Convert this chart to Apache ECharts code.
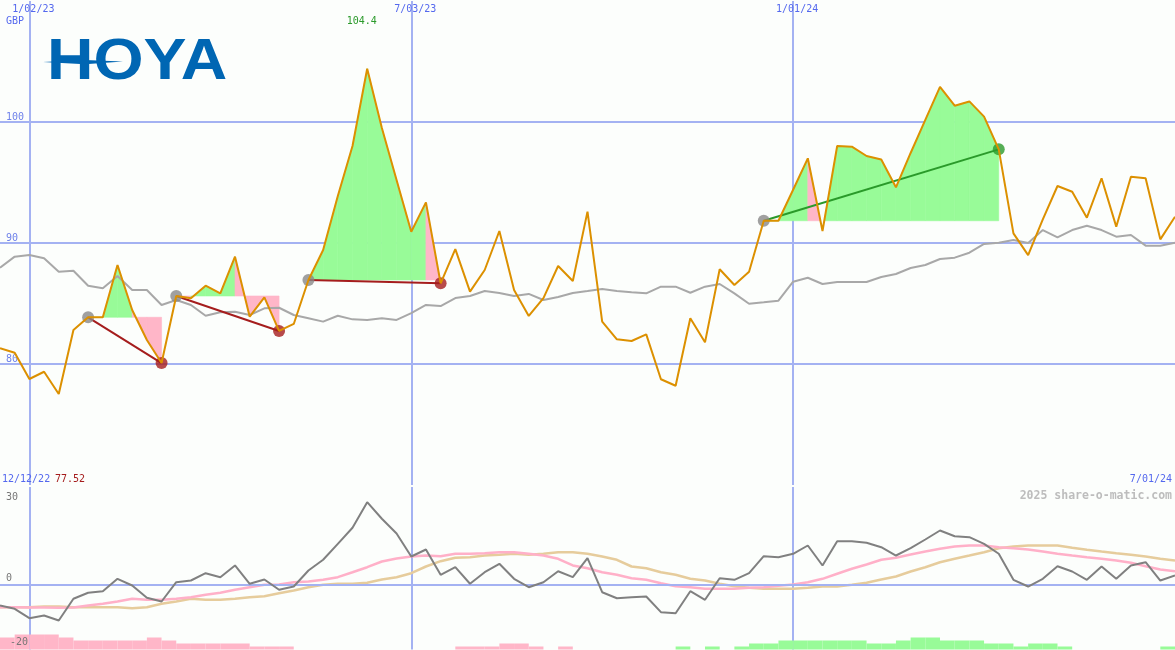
<!DOCTYPE html>
<html><head><meta charset="utf-8">
<script src="https://cdn.jsdelivr.net/npm/echarts@6/dist/echarts.min.js"></script>
<style>html,body{margin:0;padding:0;background:#fcfefc;}#c{width:1175px;height:650px;}</style>
</head><body><div id="c"></div>
<script>
// ---------- DATA ----------
const dates = ['12/12/22','12/19/22','1/02/23','1/09/23','1/16/23','1/23/23','1/30/23','2/06/23','2/13/23','2/20/23',
'2/27/23','3/06/23','3/13/23','3/20/23','3/27/23','4/03/23','4/10/23','4/17/23','4/24/23','5/01/23',
'5/08/23','5/15/23','5/22/23','5/29/23','6/05/23','6/12/23','6/19/23','6/26/23','7/03/23','7/10/23',
'7/17/23','7/24/23','7/31/23','8/07/23','8/14/23','8/21/23','8/28/23','9/04/23','9/11/23','9/18/23',
'9/25/23','10/02/23','10/09/23','10/16/23','10/23/23','10/30/23','11/06/23','11/13/23','11/20/23','11/27/23',
'12/04/23','12/11/23','12/18/23','12/25/23','1/01/24','1/08/24','1/15/24','1/22/24','1/29/24','2/05/24',
'2/12/24','2/19/24','2/26/24','3/04/24','3/11/24','3/18/24','3/25/24','4/01/24','4/08/24','4/15/24',
'4/22/24','4/29/24','5/06/24','5/13/24','5/20/24','5/27/24','6/03/24','6/10/24','6/17/24','6/24/24','7/01/24'];

const price = [81.30,80.93,78.76,79.36,77.52,82.81,83.86,83.86,88.18,84.46,
81.98,80.08,85.62,85.43,86.47,85.84,88.87,83.91,85.51,82.73,
83.31,86.94,89.42,93.88,98.02,104.4,99.50,95.21,90.93,93.36,
86.67,89.50,85.98,87.77,90.99,86.12,83.97,85.45,88.10,86.86,
92.59,83.50,82.04,81.90,82.45,78.74,78.20,83.78,81.79,87.83,
86.53,87.63,91.84,91.84,94.40,97.00,90.99,98.02,97.96,97.19,
96.90,94.60,97.44,100.17,102.90,101.35,101.70,100.44,97.74,90.80,
89.00,91.96,94.71,94.24,92.09,95.35,91.35,95.48,95.35,90.30,92.17];

const priceAvg = [87.96,88.87,89.01,88.74,87.63,87.71,86.47,86.26,87.27,86.12,
86.12,84.88,85.29,84.88,83.99,84.27,84.32,84.05,84.60,84.65,
84.05,83.78,83.50,83.99,83.69,83.64,83.78,83.64,84.21,84.88,
84.79,85.45,85.62,86.03,85.87,85.62,85.79,85.29,85.54,85.87,
86.03,86.20,86.03,85.93,85.84,86.39,86.39,85.89,86.39,86.61,
85.84,84.98,85.10,85.23,86.80,87.13,86.61,86.78,86.78,86.78,
87.19,87.44,87.93,88.18,88.68,88.79,89.20,89.92,90.02,90.25,
90.00,91.07,90.47,91.07,91.43,91.07,90.52,90.66,89.78,89.78,90.02];

const momentum = [-6.46,-7.48,-10.37,-9.54,-11.08,-4.40,-2.55,-2.06,1.75,-0.31,
-4.09,-5.23,0.71,1.23,3.48,2.25,5.85,0.22,1.54,-1.63,
-0.62,4.31,7.60,12.52,17.45,25.32,20.22,15.69,8.62,10.77,
2.98,5.32,0.22,3.78,6.37,1.75,-0.83,0.71,4.09,2.25,
8.09,-2.37,-4.22,-3.91,-3.69,-8.52,-8.83,-2.06,-4.71,1.94,
1.45,3.48,8.71,8.40,9.45,12.00,5.85,13.32,13.32,12.83,
11.48,8.92,11.17,13.85,16.62,14.86,14.55,12.52,9.45,1.45,
-0.62,1.75,5.63,4.00,1.45,5.54,1.75,5.85,6.86,1.23,2.77];

const momFast = [-6.98,-6.98,-7.08,-7.08,-7.17,-7.08,-6.46,-5.94,-5.23,-4.40,
-4.71,-4.71,-4.40,-3.91,-3.17,-2.55,-1.63,-0.83,-0.09,0.00,
0.71,0.92,1.45,2.25,3.78,5.32,7.08,8.00,8.62,8.92,
8.71,9.45,9.45,9.63,9.94,9.94,9.45,8.92,7.91,5.85,
5.02,3.78,2.98,1.94,1.45,0.40,-0.52,-0.83,-1.32,-1.32,
-1.32,-1.02,-0.83,-0.40,0.00,0.71,1.75,3.29,4.83,6.15,
7.60,8.22,9.23,10.15,10.98,11.69,12.00,12.00,11.48,11.17,
10.77,10.15,9.45,8.92,8.40,7.91,7.38,6.68,5.63,4.62,4.09];

const momSlow = [-6.98,-6.98,-6.98,-6.77,-6.77,-6.98,-6.98,-6.98,-6.98,-7.29,
-6.98,-5.94,-5.23,-4.40,-4.71,-4.71,-4.40,-3.91,-3.60,-2.68,
-1.85,-0.83,-0.09,0.22,0.22,0.52,1.54,2.25,3.48,5.54,
7.17,8.22,8.40,8.92,9.14,9.45,9.14,9.45,9.94,9.94,
9.45,8.62,7.60,5.54,5.02,3.78,2.98,1.75,1.23,0.22,
-0.52,-1.02,-1.32,-1.32,-1.32,-1.02,-0.62,-0.62,-0.09,0.52,
1.54,2.46,4.00,5.32,6.86,7.91,8.92,9.94,11.17,11.69,
12.00,12.00,12.00,11.29,10.68,10.15,9.63,9.14,8.62,7.91,7.38];

// weekly strength histogram (one block per week interval, sign = direction)
const histogram = [-4,-5,-5,-5,-4,-3,-3,-3,-3,-3,
-4,-3,-2,-2,-2,-2,-2,-1,-1,-1,
0,0,0,0,0,0,0,0,0,0,
0,-1,-1,-1,-2,-2,-1,0,-1,0,
0,0,0,0,0,0,1,0,1,0,
1,2,2,3,3,3,3,3,3,2,
2,3,4,4,3,3,3,2,2,1,
2,2,1,0,0,0,0,0,0,1];

// trades: entry/exit week index; segment state per week: G gain, L loss, g gain (above entry only), l loss (above entry only)
const trades = [
  {entry: 6,  exit: 11, segments: 'GGGLL'},
  {entry: 12, exit: 19, segments: 'LGGGLLL'},
  {entry: 21, exit: 30, segments: 'GGGGGGGGL'},
  {entry: 52, exit: 68, segments: 'GGGlgGGGGGGGGGGG'}
];

const markedDates = ['1/02/23', '7/03/23', '1/01/24'];
const priceTicks = [80, 90, 100];
const momTicks = ['30', '0', '-20'];
const currency = 'GBP';
const company = 'HOYA';
const credit = '2025 share-o-matic.com';

// ---------- STYLE ----------
const GREEN = '#98fb98', PINK = '#ffb6c8';
const GRID_BLUE = '#a4b2f2';
const MONO = '"DejaVu Sans Mono", monospace';

const chart = echarts.init(document.getElementById('c'), null, {renderer: 'canvas'});
const markIdx = markedDates.map(d => dates.indexOf(d));

const fillData = [];
trades.forEach(t => {
  const base = price[t.entry];
  for (let k = 0; k < t.segments.length; k++) fillData.push([t.entry + k, base, 'GLgl'.indexOf(t.segments[k])]);
});

function clipAbove(p0, p1, yb) {
  const a0 = p0[1] <= yb, a1 = p1[1] <= yb;
  if (a0 && a1) return [[p0[0], yb], p0, p1, [p1[0], yb]];
  if (!a0 && !a1) return null;
  const t = (yb - p0[1]) / (p1[1] - p0[1]);
  const xc = p0[0] + t * (p1[0] - p0[0]);
  if (a0) return [[p0[0], yb], p0, [xc, yb]];
  return [[xc, yb], p1, [p1[0], yb]];
}

function renderFill(params, api) {
  const k = api.value(0), base = api.value(1), type = api.value(2);
  const p0 = api.coord([k, price[k]]), p1 = api.coord([k + 1, price[k + 1]]);
  const yb = api.coord([k, base])[1];
  const pts = type < 2 ? [[p0[0], yb], p0, p1, [p1[0], yb]] : clipAbove(p0, p1, yb);
  if (!pts) return null;
  const color = (type % 2 === 0) ? GREEN : PINK;
  return {type: 'polygon', shape: {points: pts}, style: {fill: color, stroke: color, lineWidth: 0.6}};
}

const series = [];
series.push({type: 'custom', xAxisIndex: 0, yAxisIndex: 0, z: 1, data: fillData, renderItem: renderFill, silent: true});
series.push({type: 'line', xAxisIndex: 0, yAxisIndex: 0, z: 2, data: priceAvg, symbol: 'none',
  lineStyle: {color: '#a8a8a8', width: 2}, silent: true});
const dots = [];
trades.forEach(t => {
  const win = price[t.exit] > price[t.entry];
  const c = win ? '#2a9a2a' : '#a51d1d';
  series.push({type: 'line', xAxisIndex: 0, yAxisIndex: 0, z: 3, symbol: 'none', silent: true,
    data: [[t.entry, price[t.entry]], [t.exit, price[t.exit]]], lineStyle: {color: c, width: 2}});
  dots.push({value: [t.entry, price[t.entry]], itemStyle: {color: '#888888'}});
  dots.push({value: [t.exit, price[t.exit]], itemStyle: {color: c}});
});
series.push({type: 'scatter', xAxisIndex: 0, yAxisIndex: 0, z: 4, symbolSize: 12, data: dots, silent: true});
series.push({type: 'line', xAxisIndex: 0, yAxisIndex: 0, z: 5, data: price, symbol: 'none',
  lineStyle: {color: '#dc9000', width: 2}, silent: true});

// bottom panel
series.push({type: 'bar', xAxisIndex: 2, yAxisIndex: 2, z: 1, silent: true, barCategoryGap: '0%', barWidth: '100%',
  data: histogram.map(v => ({value: Math.abs(v), itemStyle: {color: v < 0 ? PINK : GREEN}}))});
series.push({type: 'line', xAxisIndex: 1, yAxisIndex: 1, z: 1, data: momentum, symbol: 'none', silent: true,
  lineStyle: {opacity: 0},
  markLine: {symbol: 'none', silent: true, label: {show: false}, data: [{yAxis: 0}],
    lineStyle: {color: GRID_BLUE, width: 2, type: 'solid'}}});
series.push({type: 'line', xAxisIndex: 1, yAxisIndex: 1, z: 3, data: momSlow, symbol: 'none', silent: true,
  lineStyle: {color: '#e6cc9c', width: 2.5}});
series.push({type: 'line', xAxisIndex: 1, yAxisIndex: 1, z: 4, data: momFast, symbol: 'none', silent: true,
  lineStyle: {color: '#ffb0c8', width: 2.5}});
series.push({type: 'line', xAxisIndex: 1, yAxisIndex: 1, z: 5, data: momentum, symbol: 'none', silent: true,
  lineStyle: {color: '#808080', width: 2}});

const vSplit = {show: true, interval: i => markIdx.includes(i), lineStyle: {color: GRID_BLUE, width: 2}};

chart.setOption({
  animation: false,
  backgroundColor: '#fcfefc',
  grid: [
    {left: 0, right: 0, top: 1, height: 484, outerBoundsMode: 'none'},
    {left: 0, right: 0, top: 487, height: 162.5, outerBoundsMode: 'none'}
  ],
  xAxis: [
    {type: 'category', gridIndex: 0, data: dates, boundaryGap: false, axisLine: {show: false}, axisTick: {show: false},
      axisLabel: {show: false}, splitLine: vSplit},
    {type: 'category', gridIndex: 1, data: dates, boundaryGap: false, position: 'top',
      axisLine: {show: true, lineStyle: {color: '#7284ee', width: 2}}, axisTick: {show: false},
      axisLabel: {show: false}, splitLine: vSplit},
    {type: 'category', gridIndex: 1, data: dates.slice(0, -1), boundaryGap: true, show: false}
  ],
  yAxis: [
    {type: 'value', gridIndex: 0, min: 70, max: 110, interval: 10, axisLine: {show: false}, axisTick: {show: false},
      splitLine: {show: true, showMinLine: false, showMaxLine: false, lineStyle: {color: GRID_BLUE, width: 2}},
      axisLabel: {inside: true, margin: 6, verticalAlign: 'bottom', showMinLabel: false, showMaxLabel: false,
        color: '#6f82ea', fontFamily: MONO, fontSize: 10,
        formatter: v => priceTicks.includes(v) ? String(v) : ''}},
    {type: 'value', gridIndex: 1, min: -20, max: 30, show: false, splitLine: {show: false}},
    {type: 'value', gridIndex: 1, min: 0, max: 162.5 / 3, show: false, splitLine: {show: false}}
  ],
  series: series
});

// ---------- TEXT LABELS ----------
const g = [];
const tx = (x, y, text, color, align, extra) => g.push(Object.assign({type: 'text', x: x, y: y, silent: true, z: 100,
  style: Object.assign({text: text, fill: color, font: '10px ' + MONO, textAlign: align || 'left', textVerticalAlign: 'middle'}, extra || {})}));

markIdx.forEach((i, n) => {
  const px = chart.convertToPixel({xAxisIndex: 0}, i);
  tx(px + 4, 9, markedDates[n], '#5468ee', 'center');
});
tx(6, 21, currency, '#5468ee');

let maxI = 0, minI = 0;
price.forEach((v, i) => { if (v > price[maxI]) maxI = i; if (v < price[minI]) minI = i; });
const maxPx = chart.convertToPixel({xAxisIndex: 0}, maxI);
tx(maxPx - 5.5, 21, price[maxI].toFixed(1), '#2a9a2a', 'center');

tx(2, 479, dates[0], '#5468ee');
tx(55, 479, price[minI].toFixed(2), '#a51d1d');
tx(1172, 479, dates[dates.length - 1], '#5468ee', 'right');
tx(1172, 496, credit, '#bdbdbd', 'right', {font: 'bold 11.5px ' + MONO});

tx(6, 497, momTicks[0], '#777777');
tx(6, 578, momTicks[1], '#777777');
tx(10, 642, momTicks[2], '#777777');

// logo
g.push({type: 'polygon', silent: true, z: 100, shape: {points: [[43, 62], [85, 60], [123, 61.5], [85, 64.2]]}, style: {fill: '#0066b3'}});
g.push({type: 'text', x: 47, y: 63.5, scaleX: 1.13, scaleY: 1, originX: 0, originY: 0, silent: true, z: 101,
  style: {text: company, fill: '#0066b3', font: 'bold 57px "Liberation Sans", Arial, sans-serif', textAlign: 'left', textVerticalAlign: 'middle'}});

chart.setOption({graphic: g});
</script>
</body></html>
